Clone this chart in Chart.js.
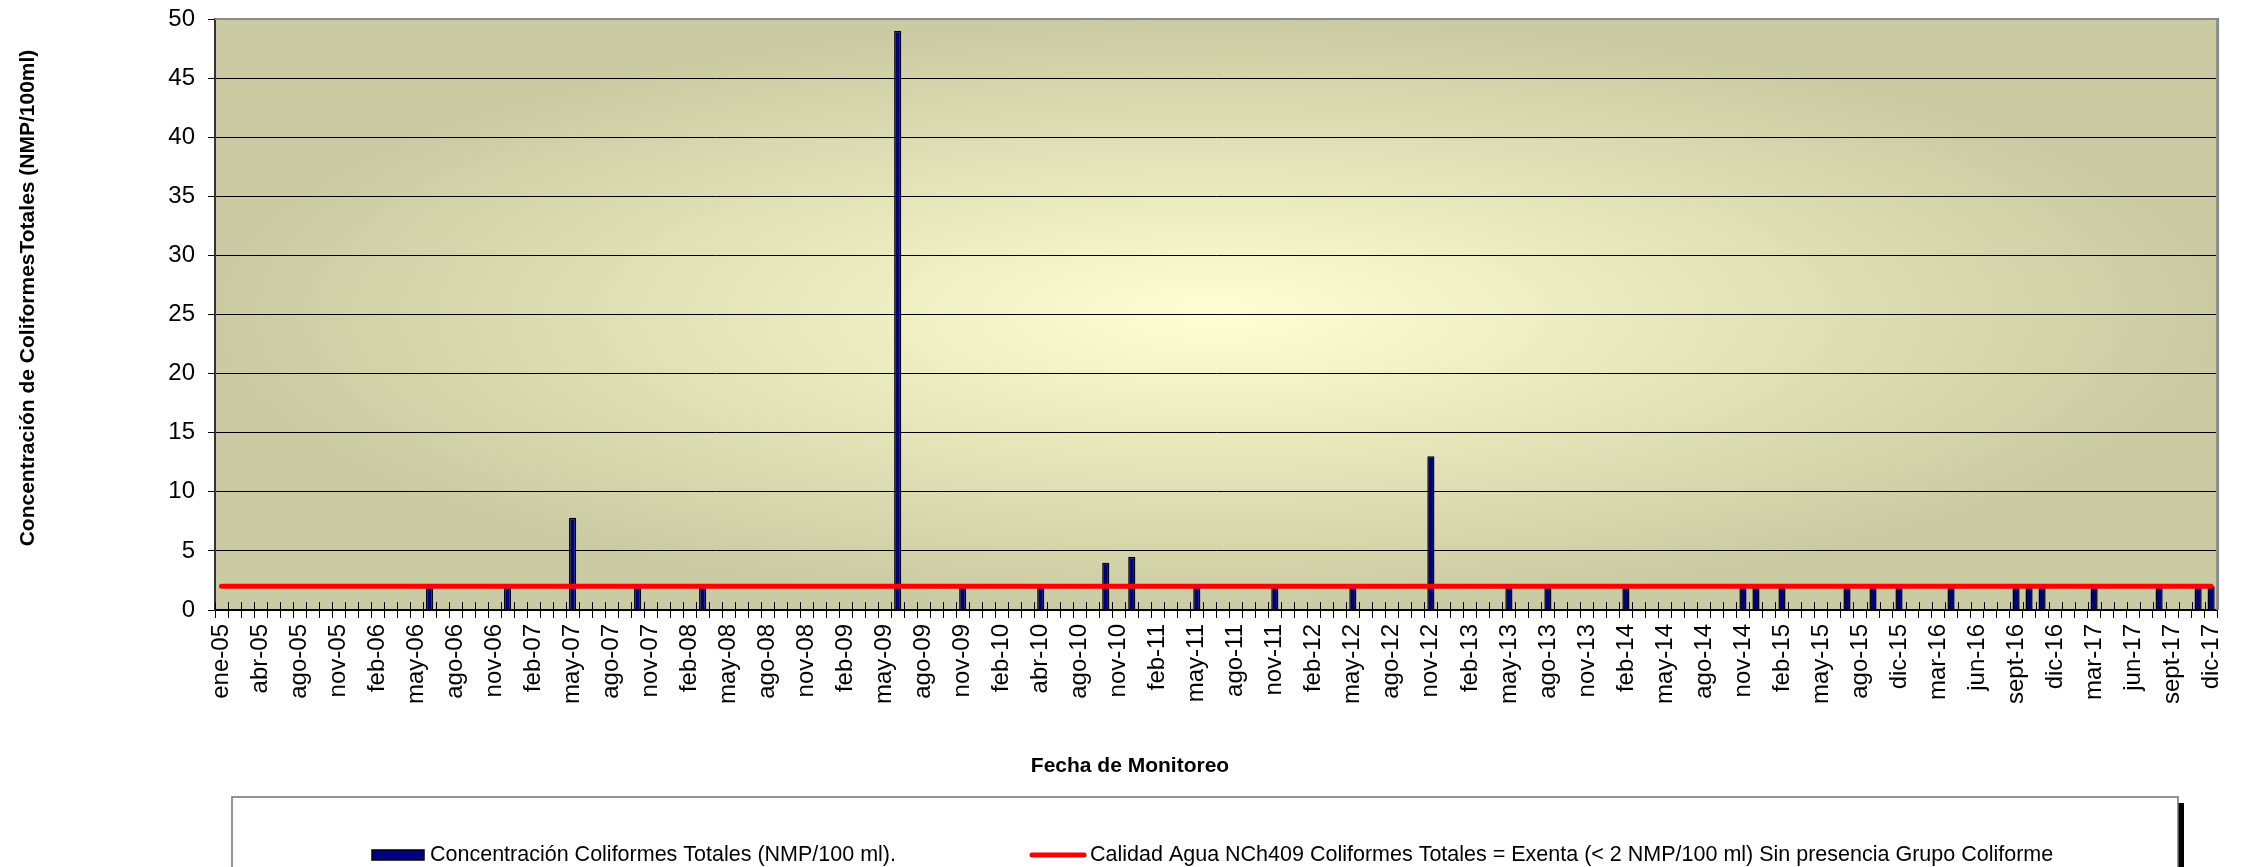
<!DOCTYPE html>
<html lang="es">
<head>
<meta charset="utf-8">
<title>Concentración Coliformes Totales</title>
<script src="https://cdn.jsdelivr.net/npm/chart.js@4.4.1/dist/chart.umd.min.js"></script>
<style>
  html, body { margin: 0; padding: 0; background: #fff; }
  #chart { display: block; }
</style>
</head>
<body>
<canvas id="chart" width="2246" height="867"></canvas>
<script>
const _ = null;

// monitoring dates (one category per sample, label shown on every third one)
const sampleDates = [
  "ene-05", "feb-05", "mar-05", "abr-05", "may-05", "jul-05", "ago-05", "sept-05", "oct-05", "nov-05", "dic-05", "ene-06",
  "feb-06", "mar-06", "abr-06", "may-06", "jun-06", "jul-06", "ago-06", "sept-06", "oct-06", "nov-06", "dic-06", "ene-07",
  "feb-07", "mar-07", "abr-07", "may-07", "jun-07", "jul-07", "ago-07", "sept-07", "oct-07", "nov-07", "dic-07", "ene-08",
  "feb-08", "mar-08", "abr-08", "may-08", "jun-08", "jul-08", "ago-08", "sept-08", "oct-08", "nov-08", "dic-08", "ene-09",
  "feb-09", "mar-09", "abr-09", "may-09", "jun-09", "jul-09", "ago-09", "sept-09", "oct-09", "nov-09", "dic-09", "ene-10",
  "feb-10", "mar-10", "mar-10", "abr-10", "may-10", "jul-10", "ago-10", "sept-10", "oct-10", "nov-10", "dic-10", "ene-11",
  "feb-11", "mar-11", "abr-11", "may-11", "jun-11", "jul-11", "ago-11", "sept-11", "oct-11", "nov-11", "dic-11", "ene-12",
  "feb-12", "mar-12", "abr-12", "may-12", "jun-12", "jul-12", "ago-12", "sept-12", "oct-12", "nov-12", "dic-12", "ene-13",
  "feb-13", "mar-13", "abr-13", "may-13", "jun-13", "jul-13", "ago-13", "sept-13", "oct-13", "nov-13", "dic-13", "ene-14",
  "feb-14", "mar-14", "abr-14", "may-14", "jun-14", "jul-14", "ago-14", "sept-14", "oct-14", "nov-14", "dic-14", "ene-15",
  "feb-15", "mar-15", "abr-15", "may-15", "jun-15", "jul-15", "ago-15", "sept-15", "nov-15", "dic-15", "ene-16", "feb-16",
  "mar-16", "abr-16", "may-16", "jun-16", "jul-16", "ago-16", "sept-16", "oct-16", "nov-16", "dic-16", "ene-17", "feb-17",
  "mar-17", "abr-17", "may-17", "jun-17", "jul-17", "ago-17", "sept-17", "oct-17", "nov-17", "dic-17",
];

// NMP/100 ml, null = no bar drawn
const coliformValues = [
  _, _, _, _, _, _, _, _, _, _, _, _,
  _, _, _, _, 2, _, _, _, _, _, 2, _,
  _, _, _, 7.8, _, _, _, _, 2, _, _, _,
  _, 2, _, _, _, _, _, _, _, _, _, _,
  _, _, _, _, 49, _, _, _, _, 2, _, _,
  _, _, _, 2, _, _, _, _, 4, _, 4.5, _,
  _, _, _, 2, _, _, _, _, _, 2, _, _,
  _, _, _, 2, _, _, _, _, _, 13, _, _,
  _, _, _, 2, _, _, 2, _, _, _, _, _,
  2, _, _, _, _, _, _, _, _, 2, 2, _,
  2, _, _, _, _, 2, _, 2, _, 2, _, _,
  _, 2, _, _, _, _, 2, 2, 2, _, _, _,
  2, _, _, _, _, 2, _, _, 2, 2,
];

const normLimit = 2;
const yTicks = [0, 5, 10, 15, 20, 25, 30, 35, 40, 45, 50];

const barLabel = "Concentración Coliformes Totales (NMP/100 ml).";
const lineLabel = "Calidad Agua NCh409 Coliformes Totales = Exenta (< 2 NMP/100 ml) Sin presencia Grupo Coliforme";
const yTitle = "Concentración de ColiformesTotales (NMP/100ml)";
const xTitle = "Fecha de Monitoreo";

const FONT = "'Liberation Sans', Arial, sans-serif";

// light centre, olive edges
const plotBackground = {
  id: "plotBackground",
  beforeDraw(chart) {
    const { ctx, chartArea: a } = chart;
    ctx.save();
    ctx.fillStyle = "#fff";
    ctx.fillRect(0, 0, chart.width, chart.height);
    ctx.beginPath();
    ctx.rect(a.left, a.top, a.width, a.height);
    ctx.clip();
    const rx = a.width / 2;
    const ry = a.height / 2;
    ctx.translate(a.left + rx, a.top + ry);
    ctx.scale(rx / ry, 1);
    const g = ctx.createRadialGradient(0, 0, 0, 0, 0, ry);
    g.addColorStop(0, "#ffffd2");
    g.addColorStop(1, "#cbcba3");
    ctx.fillStyle = g;
    ctx.fillRect(-ry, -ry, 2 * ry, 2 * ry);
    ctx.restore();
  },
  beforeDatasetsDraw(chart) {
    // small tick marks above the category axis
    const { ctx, chartArea: a } = chart;
    const xs = chart.scales.x;
    const step = xs.getPixelForValue(1) - xs.getPixelForValue(0);
    ctx.save();
    ctx.strokeStyle = "#000";
    ctx.lineWidth = 1;
    ctx.beginPath();
    for (let i = 0; i <= sampleDates.length; i++) {
      const x = Math.round(xs.getPixelForValue(i) - step / 2) + 0.5;
      ctx.moveTo(x, a.bottom - 8);
      ctx.lineTo(x, a.bottom);
    }
    ctx.stroke();
    ctx.restore();
  },
};

const chartDecor = {
  id: "chartDecor",
  afterDraw(chart) {
    const { ctx, chartArea: a } = chart;
    ctx.save();

    // plot frame, top and right
    ctx.strokeStyle = "#8c8c8c";
    ctx.lineWidth = 2;
    ctx.beginPath();
    ctx.moveTo(a.left, a.top);
    ctx.lineTo(a.right, a.top);
    ctx.stroke();
    ctx.lineWidth = 3;
    ctx.beginPath();
    ctx.moveTo(a.right, a.top - 1);
    ctx.lineTo(a.right, a.bottom);
    ctx.stroke();

    // axis titles
    ctx.fillStyle = "#000";
    ctx.font = "bold 21px " + FONT;
    ctx.textAlign = "center";
    ctx.textBaseline = "middle";
    ctx.fillText(xTitle, chart.width / 2 + 7, chart.height - 101);
    ctx.save();
    ctx.translate(28, 298);
    ctx.rotate(-Math.PI / 2);
    ctx.fillText(yTitle, 0, 0);
    ctx.restore();

    // legend box
    const bx = 232, by = 797, bw = 1946;
    ctx.fillStyle = "#000";
    ctx.fillRect(bx + bw, by + 6, 6, chart.height - by);
    ctx.fillStyle = "#fff";
    ctx.fillRect(bx, by, bw, chart.height - by + 10);
    ctx.strokeStyle = "#707070";
    ctx.lineWidth = 1.5;
    ctx.strokeRect(bx, by, bw, chart.height - by + 10);

    const ly = 855;
    const bars = chart.data.datasets[1];
    const line = chart.data.datasets[0];
    ctx.fillStyle = bars.backgroundColor;
    ctx.fillRect(372, ly - 5, 52, 10);
    ctx.strokeStyle = bars.borderColor;
    ctx.lineWidth = 1.5;
    ctx.strokeRect(372, ly - 5, 52, 10);

    ctx.strokeStyle = line.borderColor;
    ctx.lineWidth = 5;
    ctx.lineCap = "round";
    ctx.beginPath();
    ctx.moveTo(1032, ly);
    ctx.lineTo(1084, ly);
    ctx.stroke();

    ctx.fillStyle = "#000";
    ctx.font = "21.5px " + FONT;
    ctx.textAlign = "left";
    ctx.fillText(bars.label, 430, ly);
    ctx.fillText(line.label, 1090, ly);
    ctx.restore();
  },
};

new Chart(document.getElementById("chart"), {
  type: "bar",
  data: {
    labels: sampleDates,
    datasets: [
      {
        type: "line",
        label: lineLabel,
        data: sampleDates.map(() => normLimit),
        borderColor: "#ff0000",
        borderWidth: 5,
        borderCapStyle: "round",
        pointRadius: 0,
        order: 1,
      },
      {
        type: "bar",
        label: barLabel,
        data: coliformValues,
        backgroundColor: "#000080",
        borderColor: "#000",
        borderWidth: 1.5,
        barPercentage: 0.55,
        categoryPercentage: 1,
        order: 2,
      },
    ],
  },
  options: {
    responsive: false,
    animation: false,
    layout: { padding: { top: 19, right: 28, bottom: 0, left: 0 } },
    plugins: {
      legend: { display: false },
      tooltip: { enabled: false },
    },
    scales: {
      x: {
        offset: true,
        grid: {
          offset: true,
          drawOnChartArea: false,
          tickLength: 8,
          color: "#000",
        },
        border: { color: "#000", width: 2 },
        ticks: {
          autoSkip: false,
          maxRotation: 90,
          minRotation: 90,
          padding: 6,
          color: "#000",
          font: { family: FONT, size: 24 },
          callback(value, index) {
            return index % 3 === 0 ? this.getLabelForValue(value) : "";
          },
        },
        afterFit(scale) {
          scale.height = 257;
        },
      },
      y: {
        min: yTicks[0],
        max: yTicks[yTicks.length - 1],
        afterBuildTicks(scale) {
          scale.ticks = yTicks.map((v) => ({ value: v }));
        },
        grid: { color: "#000", tickLength: 7 },
        border: { color: "#333", width: 2 },
        ticks: {
          padding: 13,
          color: "#000",
          font: { family: FONT, size: 24 },
        },
        afterFit(scale) {
          scale.width = 215;
          scale.paddingTop = 0;
          scale.paddingBottom = 0;
        },
      },
    },
  },
  plugins: [plotBackground, chartDecor],
});
</script>
</body>
</html>
